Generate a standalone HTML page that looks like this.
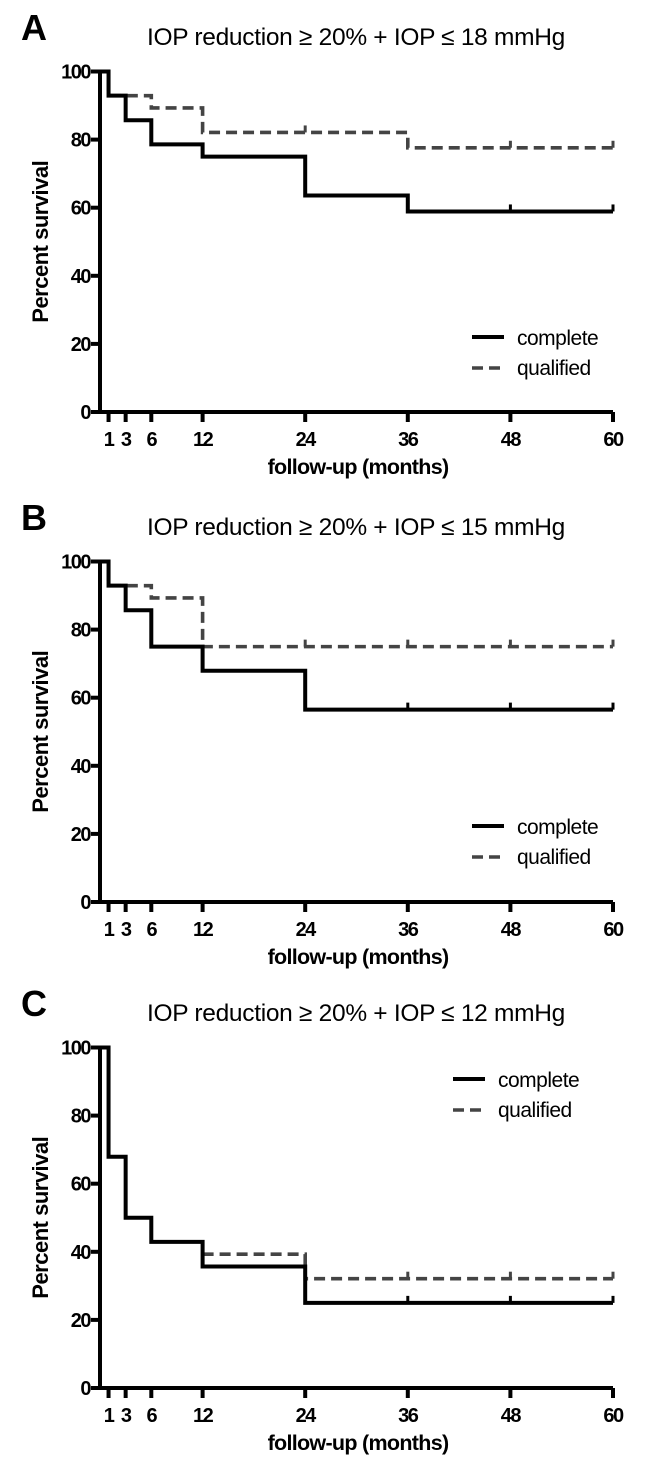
<!DOCTYPE html>
<html><head><meta charset="utf-8"><style>
html,body{margin:0;padding:0;background:#fff;}
svg{display:block;}
text{font-family:"Liberation Sans",Arial,sans-serif;}
</style></head><body>
<svg id="fig" width="649" height="1463" viewBox="0 0 649 1463" xmlns="http://www.w3.org/2000/svg"></svg>
<script>
// Shared axis data
const xTicks = [1, 3, 6, 12, 24, 36, 48, 60];
const yTicks = [0, 20, 40, 60, 80, 100];
const panelLetters = ["A", "B", "C"];
const panelTitles = ["IOP reduction \u2265 20% + IOP \u2264 18 mmHg", "IOP reduction \u2265 20% + IOP \u2264 15 mmHg", "IOP reduction \u2265 20% + IOP \u2264 12 mmHg"];
// Step times (months) and survival values
const timesA_complete = [0, 1, 3, 6, 12, 24, 36, 60];
const valsA_complete = [100, 92.9, 85.7, 78.6, 75, 63.6, 58.9, 58.9];
const censorA_complete = [48, 60];
const timesA_qualified = [0, 1, 6, 12, 36, 60];
const valsA_qualified = [100, 92.9, 89.3, 82.1, 77.6, 77.6];
const censorA_qualified = [24, 48, 60];
const timesB_complete = [0, 1, 3, 6, 12, 24, 60];
const valsB_complete = [100, 92.9, 85.7, 75, 67.9, 56.5, 56.5];
const censorB_complete = [36, 48, 60];
const timesB_qualified = [0, 1, 6, 12, 60];
const valsB_qualified = [100, 92.9, 89.3, 75, 75];
const censorB_qualified = [24, 36, 48, 60];
const timesC_complete = [0, 1, 3, 6, 12, 24, 60];
const valsC_complete = [100, 67.9, 50, 42.9, 35.7, 25, 25];
const censorC_complete = [36, 48, 60];
const timesC_qualified = [12, 24, 60];
const valsC_qualified = [39.3, 32.1, 32.1];
const censorC_qualified = [36, 48, 60];

const NS = "http://www.w3.org/2000/svg";
const svg = document.getElementById("fig");
const offsets = [0, 490, 976];
const legendPos = [[472, 337], [472, 826], [453, 1079]];
const panels = [
  {tc: timesA_complete, vc: valsA_complete, cc: censorA_complete, tq: timesA_qualified, vq: valsA_qualified, cq: censorA_qualified},
  {tc: timesB_complete, vc: valsB_complete, cc: censorB_complete, tq: timesB_qualified, vq: valsB_qualified, cq: censorB_qualified},
  {tc: timesC_complete, vc: valsC_complete, cc: censorC_complete, tq: timesC_qualified, vq: valsC_qualified, cq: censorC_qualified}
];
function mk(tag, attrs, parent) {
  const e = document.createElementNS(NS, tag);
  for (const k in attrs) e.setAttribute(k, attrs[k]);
  (parent || svg).appendChild(e);
  return e;
}
const X0 = 100, X1 = 613;
function xs(m) { return X0 + (X1 - X0) * m / 60; }

panels.forEach((p, i) => {
  const off = offsets[i];
  function ys(v) { return off + 412 - (412 - 71.5) * v / 100; }
  const g = mk("g", {});
  
  

  const letter = mk("text", {x: 21, y: off + 40, "font-size": 36, "font-weight": "bold"}, g);
  letter.textContent = panelLetters[i];
  
  

  const title = mk("text", {x: 356, y: off + 45, "font-size": 24.5, "text-anchor": "middle", "letter-spacing": "-0.3"}, g);
  title.textContent = panelTitles[i];
  
  

  const ax = mk("path", {d: `M${X0} ${ys(100)} V${ys(0)} H${X1}`, fill: "none", stroke: "#000", "stroke-width": 4}, g);
  
  
  yTicks.forEach(v => {
    const t = mk("line", {x1: X0 - 9, x2: X0, y1: ys(v), y2: ys(v), stroke: "#000", "stroke-width": 4}, g);
    
    
    const l = mk("text", {x: X0 - 10, y: ys(v) + 7, "font-size": 20, "font-weight": "bold", "text-anchor": "end", "letter-spacing": "-1.5"}, g);
    l.textContent = v;
    
    
  });
  xTicks.forEach(m => {
    const t = mk("line", {x1: xs(m), x2: xs(m), y1: ys(0), y2: ys(0) + 10, stroke: "#000", "stroke-width": 4}, g);
    
    
    const l = mk("text", {x: xs(m), y: ys(0) + 34, "font-size": 20, "font-weight": "bold", "text-anchor": "middle", "letter-spacing": "-1.5"}, g);
    l.textContent = m;
    
    
  });
  const yt = mk("text", {x: 0, y: 0, "font-size": 22, "font-weight": "bold", "text-anchor": "middle", "letter-spacing": "-0.5", transform: `translate(48 ${ys(50)}) rotate(-90)`}, g);
  yt.textContent = "Percent survival";
  
  
  const xt = mk("text", {x: 358, y: ys(0) + 62, "font-size": 21.5, "font-weight": "bold", "text-anchor": "middle", "letter-spacing": "-0.7"}, g);
  xt.textContent = "follow-up (months)";
  
  

  function stepPath(ts, vs) {
    let d = `M${xs(ts[0])} ${ys(vs[0])}`;
    for (let k = 1; k < ts.length; k++) {
      d += ` H${xs(ts[k])} V${ys(vs[k])}`;
    }
    return d;
  }
  function valAt(ts, vs, m) {
    let v = vs[0];
    for (let k = 0; k < ts.length; k++) if (ts[k] <= m) v = vs[k];
    return v;
  }
  const q = mk("path", {d: stepPath(p.tq, p.vq), fill: "none", stroke: "#444", "stroke-width": 3.6, "stroke-dasharray": "11 6"}, g);
  
  
  p.cq.forEach(m => {
    const y = ys(valAt(p.tq, p.vq, m));
    const c = mk("line", {x1: xs(m), x2: xs(m), y1: y, y2: y - 7, stroke: "#444", "stroke-width": 3}, g);
    
    
  });
  const c0 = mk("path", {d: stepPath(p.tc, p.vc), fill: "none", stroke: "#000", "stroke-width": 4}, g);
  
  
  p.cc.forEach(m => {
    const y = ys(valAt(p.tc, p.vc, m));
    const c = mk("line", {x1: xs(m), x2: xs(m), y1: y, y2: y - 7, stroke: "#000", "stroke-width": 3}, g);
    
    
  });

  const [lx, ly] = legendPos[i];
  const lg = mk("g", {}, g);
  
  
  const l1 = mk("line", {x1: lx, x2: lx + 32, y1: ly, y2: ly, stroke: "#000", "stroke-width": 4}, lg);
  
  
  const t1 = mk("text", {x: lx + 45, y: ly + 8, "font-size": 21, "letter-spacing": "-0.5"}, lg);
  t1.textContent = "complete";
  
  
  const l2 = mk("line", {x1: lx, x2: lx + 32, y1: ly + 31, y2: ly + 31, stroke: "#444", "stroke-width": 3.6, "stroke-dasharray": "11 6"}, lg);
  
  
  const t2 = mk("text", {x: lx + 45, y: ly + 38, "font-size": 21, "letter-spacing": "-0.5"}, lg);
  t2.textContent = "qualified";
  
  
});
</script>
</body></html>
